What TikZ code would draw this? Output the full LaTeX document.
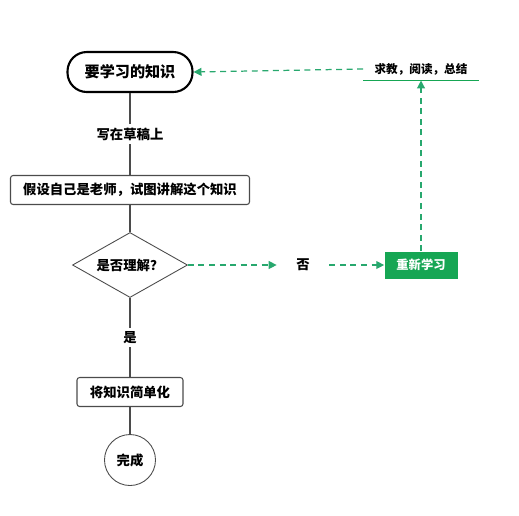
\documentclass[tikz,border=0pt]{standalone}
\usepackage{fontspec}
\setmainfont{Noto Sans CJK SC}
\usetikzlibrary{shapes.geometric, arrows.meta}
\definecolor{FlowGreen}{RGB}{22,166,84}
\definecolor{FlowDash}{RGB}{40,168,110}
\definecolor{FlowGray}{RGB}{75,75,75}

\begin{document}
\begin{tikzpicture}[x=0.02cm, y=-0.02cm,
          sbox/.style={rectangle, rounded corners=1.5pt, draw=FlowGray, line width=0.6pt,
                       minimum height=29*0.02cm, align=center, font=\bfseries\fontsize{7.6}{9}\selectfont},
          lbl/.style={fill=white, inner sep=2pt, font=\bfseries\fontsize{7.6}{9}\selectfont},
          link/.style={draw=FlowGray, line width=1.1pt},
          darr/.style={-{Triangle[length=4.5pt, width=4.5pt]}, draw=FlowDash, line width=0.7pt,
                       dash pattern=on 3.4pt off 2.6pt}
        ]
        \useasboundingbox (0,0) rectangle (519,515);

        % Start
        \node[rectangle, rounded corners=11pt, draw=black, line width=1.2pt,
              minimum width=125*0.02cm, minimum height=40*0.02cm,
              font=\bfseries\fontsize{8.6}{10}\selectfont]
              (start) at (130,72) {要学习的知识};

        % Steps
        \node[sbox, minimum width=239*0.02cm] (teach) at (130,190) {假设自己是老师，试图讲解这个知识};
        \node[diamond, draw=FlowGray, line width=0.5pt, aspect=1.77,
              minimum width=115*0.02cm, minimum height=65*0.02cm, inner sep=0pt,
              font=\bfseries\fontsize{7.6}{9}\selectfont]
              (check) at (130,265) {是否理解？};
        \node[sbox, minimum width=106*0.02cm] (simple) at (130,392) {将知识简单化};
        \node[circle, draw=FlowGray, line width=0.5pt, minimum size=51*0.02cm, inner sep=0pt,
              font=\bfseries\fontsize{7.6}{9}\selectfont]
              (done) at (130,460) {完成};

        % Retry branch
        \node[rectangle, fill=FlowGreen, text=white, minimum width=73*0.02cm,
              minimum height=27*0.02cm, font=\bfseries\fontsize{7}{8}\selectfont]
              (relearn) at (421,265) {重新学习};
        \node[minimum width=115*0.02cm, inner sep=3pt,
              font=\bfseries\fontsize{6.6}{8}\selectfont]
              (ask) at (421,69) {求教，阅读，总结};
        \draw[FlowGreen, line width=0.7pt] (ask.south west) -- (ask.south east);

        % Main path
        \draw[link] (start.south) -- node[lbl] {写在草稿上} (teach.north);
        \draw[link] (teach.south) -- (check.north);
        \draw[link] (check.south) -- node[lbl] {是} (simple.north);
        \draw[link] (simple.south) -- (done.north);

        % No: relearn, then back to start
        \node[font=\bfseries\fontsize{7.6}{9}\selectfont, inner xsep=11pt] (no) at (303,265) {否};
        \draw[darr] (check.east) -- (no.west);
        \draw[darr] (no.east) -- (relearn.west);
        \draw[darr] (relearn.north) -- (ask.south);
        \draw[darr] (ask.west) -- (start.east);
      \end{tikzpicture}
\end{document}
